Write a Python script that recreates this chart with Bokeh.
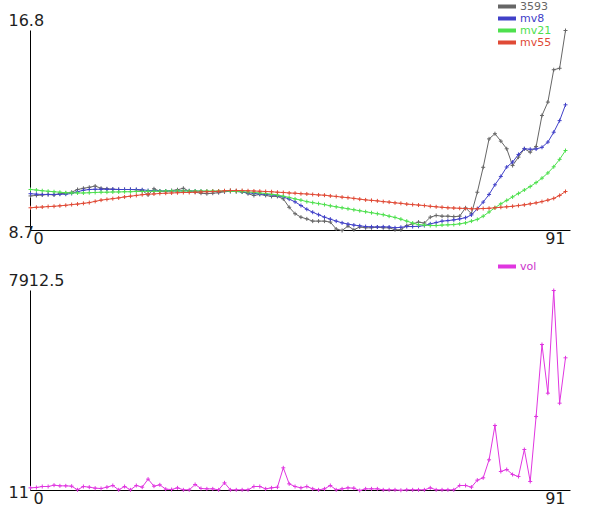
from bokeh.plotting import figure
from bokeh.models import Range1d, Label, Legend, LegendItem
from bokeh.layouts import column
from bokeh.embed import file_html
from bokeh.resources import INLINE

idx = list(range(92))

price = [10.10, 10.12, 10.14, 10.16, 10.14, 10.19, 10.21, 10.25, 10.36, 10.41,
         10.45, 10.50, 10.41, 10.39, 10.37, 10.36, 10.36, 10.36, 10.35, 10.32,
         10.14, 10.39, 10.29, 10.29, 10.32, 10.35, 10.41, 10.29, 10.25, 10.21,
         10.19, 10.21, 10.23, 10.27, 10.32, 10.29, 10.27, 10.19, 10.12, 10.16,
         10.12, 10.08, 10.08, 9.98, 9.64, 9.38, 9.24, 9.17, 9.08, 9.08,
         9.08, 9.04, 8.76, 8.70, 8.88, 8.73, 8.84, 8.81, 8.81, 8.84,
         8.81, 8.81, 8.73, 8.73, 8.90, 8.97, 9.04, 9.00, 9.24, 9.31,
         9.28, 9.28, 9.26, 9.28, 9.62, 9.38, 10.25, 11.26, 12.41, 12.62,
         12.32, 12.01, 11.33, 11.67, 12.01, 11.87, 12.10, 13.36, 13.90, 15.21,
         15.27, 16.80]

mv8 = [10.19, 10.17, 10.16, 10.16, 10.16, 10.17, 10.17, 10.20, 10.27, 10.33,
       10.36, 10.37, 10.37, 10.37, 10.37, 10.36, 10.36, 10.36, 10.36, 10.35,
       10.32, 10.31, 10.30, 10.30, 10.30, 10.30, 10.31, 10.31, 10.30, 10.29,
       10.28, 10.28, 10.28, 10.28, 10.28, 10.28, 10.26, 10.23, 10.20, 10.18,
       10.16, 10.14, 10.11, 10.06, 9.97, 9.86, 9.71, 9.56, 9.44, 9.34,
       9.24, 9.16, 9.08, 9.01, 8.96, 8.92, 8.89, 8.86, 8.85, 8.84,
       8.85, 8.84, 8.81, 8.83, 8.86, 8.86, 8.87, 8.90, 8.97, 9.02,
       9.08, 9.10, 9.13, 9.17, 9.22, 9.33, 9.58, 9.85, 10.16, 10.55,
       10.89, 11.27, 11.47, 11.78, 12.01, 11.99, 12.00, 12.07, 12.28, 12.68,
       13.15, 13.79]

mv21 = [10.36, 10.34, 10.31, 10.29, 10.27, 10.25, 10.23, 10.22, 10.22, 10.22,
        10.23, 10.24, 10.25, 10.25, 10.26, 10.26, 10.27, 10.27, 10.28, 10.28,
        10.29, 10.29, 10.29, 10.30, 10.30, 10.30, 10.30, 10.30, 10.30, 10.30,
        10.30, 10.30, 10.30, 10.30, 10.29, 10.28, 10.27, 10.26, 10.24, 10.22,
        10.20, 10.17, 10.14, 10.09, 10.04, 9.98, 9.93, 9.87, 9.83, 9.79,
        9.75, 9.70, 9.66, 9.62, 9.58, 9.54, 9.50, 9.46, 9.42, 9.38,
        9.34, 9.28, 9.23, 9.16, 9.08, 9.00, 8.94, 8.92, 8.90, 8.90,
        8.92, 8.93, 8.94, 8.97, 9.01, 9.08, 9.15, 9.28, 9.45, 9.62,
        9.78, 9.92, 10.06, 10.20, 10.34, 10.48, 10.64, 10.82, 11.03, 11.28,
        11.58, 11.94]

mv55 = [9.62, 9.64, 9.65, 9.67, 9.68, 9.70, 9.72, 9.75, 9.77, 9.80,
        9.83, 9.88, 9.93, 9.96, 9.99, 10.02, 10.06, 10.09, 10.12, 10.15,
        10.17, 10.18, 10.20, 10.21, 10.22, 10.23, 10.24, 10.24, 10.25, 10.26,
        10.27, 10.28, 10.29, 10.31, 10.32, 10.32, 10.32, 10.31, 10.30, 10.29,
        10.28, 10.27, 10.25, 10.24, 10.22, 10.21, 10.19, 10.18, 10.16, 10.14,
        10.13, 10.10, 10.08, 10.05, 10.03, 10.00, 9.97, 9.94, 9.92, 9.90,
        9.87, 9.85, 9.82, 9.80, 9.77, 9.75, 9.73, 9.71, 9.68, 9.66,
        9.64, 9.62, 9.61, 9.60, 9.59, 9.58, 9.58, 9.59, 9.60, 9.62,
        9.64, 9.66, 9.68, 9.71, 9.74, 9.78, 9.82, 9.87, 9.93, 10.00,
        10.12, 10.28]

vol = [116, 130, 169, 169, 222, 195, 195, 182, 37, 169,
       143, 103, 90, 143, 209, 37, 169, 37, 209, 143,
       460, 182, 235, 64, 50, 116, 37, 37, 248, 90,
       77, 77, 37, 314, 37, 37, 37, 37, 169, 169,
       77, 116, 143, 907, 274, 169, 116, 169, 77, 37,
       77, 209, 37, 77, 116, 103, 11, 77, 77, 77,
       37, 37, 37, 20, 37, 37, 37, 37, 116, 37,
       37, 37, 37, 209, 209, 143, 420, 512, 1223, 2579,
       762, 841, 643, 564, 1631, 367, 2935, 5779, 3855, 7912.5,
       3461, 5253]

series_names = ["3593", "mv8", "mv21", "mv55"]
series_colors = ["#666666", "#4040c8", "#4ee04e", "#e04a36"]
vol_name = "vol"
vol_color = "#e036e0"

price_ticks = [8.7, 16.8]
vol_ticks = [11, 7912.5]
x_ticks = [0, 91]
x_axis_end = 91.85          # the x axis line runs a little past the last point

# ---- layout constants (pixels) ----
FONT = "DejaVu Sans"
TXT = "#1e1e1e"
W = 584
PX_LEFT, PX_RIGHT = 30, 565        # screen x of index 0 and index 91
H1, TOP1, BOT1 = 255, 30, 230      # top panel: height, y(px) of max and min
H2, TOP2, BOT2 = 258, 35, 235      # bottom panel
NAN = float("nan")


def make_fig(h, top_px, bot_px, yr):
    sx = (PX_RIGHT - PX_LEFT) / (x_ticks[1] - x_ticks[0])
    x0 = x_ticks[0] - PX_LEFT / sx
    sy = (bot_px - top_px) / (yr[1] - yr[0])
    y1 = yr[1] + top_px / sy
    y0 = yr[0] - (h - bot_px) / sy
    p = figure(width=W, height=h, output_backend="svg", toolbar_location=None,
               x_range=Range1d(x0, x0 + W / sx), y_range=Range1d(y0, y1),
               min_border=0)
    p.axis.visible = False
    p.outline_line_color = None
    p.grid.visible = False
    p.background_fill_color = "white"
    p.border_fill_color = "white"
    # axis lines: left edge from min to max, bottom edge along the x range
    p.segment(x0=[x_ticks[0], x_ticks[0]], y0=[yr[0], yr[0]],
              x1=[x_ticks[0], x_axis_end], y1=[yr[1], yr[0]],
              line_color="black", line_width=1)
    return p


def end_labels(p, yticks, ytop_off):
    def lab(x, y, text, xo, yo, align):
        p.add_layout(Label(x=x, y=y, text=text, x_offset=xo, y_offset=yo,
                           text_align=align, text_baseline="middle",
                           text_font=FONT, text_font_size="16px",
                           text_color=TXT))
    lo, hi = yticks
    fmt = lambda v: ("%g" % v)
    lab(x_ticks[0], hi, fmt(hi), -22, ytop_off, "left")
    lab(x_ticks[0], lo, fmt(lo), -22, -1, "left")
    lab(x_ticks[0], lo, str(x_ticks[0]), 3, -7, "left")
    lab(x_ticks[1], lo, str(x_ticks[1]), 0, -7, "right")


def add_legend(p, renderer, text, color, cy, h):
    HL = 13
    leg = Legend(items=[LegendItem(label=text, renderers=[renderer])],
                 location=(498, h - cy - HL / 2),
                 padding=0, margin=0, spacing=0, border_line_color=None,
                 background_fill_alpha=0, glyph_width=18, glyph_height=8,
                 label_height=8, label_standoff=4,
                 label_text_font=FONT, label_text_font_size="11px",
                 label_text_color=color)
    p.add_layout(leg)


# ---- top figure ----
p1 = make_fig(H1, TOP1, BOT1, price_ticks)
top_series = [price, mv8, mv21, mv55]
legend_y = [6, 18, 30, 42]
for name, col, ys, cy in zip(series_names, series_colors, top_series, legend_y):
    p1.line(idx, ys, line_color=col, line_width=1)
    p1.scatter(idx, ys, marker="cross", size=4, line_color=col, line_width=1)
    swatch = p1.line([idx[0]], [NAN], line_color=col, line_width=4, line_cap="round")
    add_legend(p1, swatch, name, col, cy, H1)
end_labels(p1, price_ticks, 11)

# ---- bottom figure ----
p2 = make_fig(H2, TOP2, BOT2, vol_ticks)
p2.line(idx, vol, line_color=vol_color, line_width=1)
p2.scatter(idx, vol, marker="cross", size=4, line_color=vol_color, line_width=1)
sv = p2.line([idx[0]], [NAN], line_color=vol_color, line_width=4, line_cap="round")
add_legend(p2, sv, vol_name, "#cc33cc", 11, H2)
end_labels(p2, vol_ticks, 11)

layout = column(p1, p2, spacing=0)
open("out.html", "w").write(file_html(layout, INLINE))
